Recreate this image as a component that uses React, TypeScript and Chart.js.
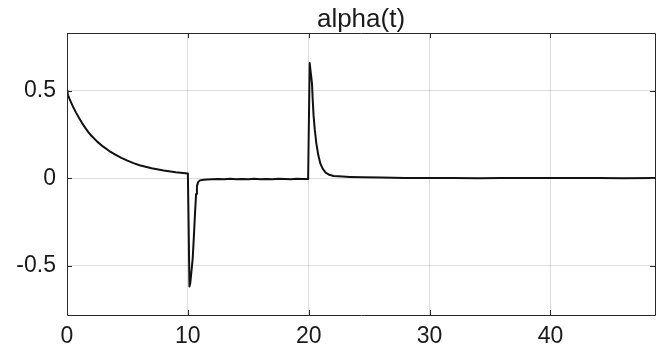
import React, { useEffect, useRef } from 'react';
import { Chart, registerables } from 'chart.js';

Chart.register(...registerables);

const TITLE = 'alpha(t)';

const X_MIN = 0;
const X_MAX = 48.65;
const Y_MIN = -0.783;
const Y_MAX = 0.832;

const X_TICKS = [0, 10, 20, 30, 40];
const X_TICK_LABELS = ['0', '10', '20', '30', '40'];
const Y_TICKS = [-0.5, 0, 0.5];
const Y_TICK_LABELS = ['-0.5', '0', '0.5'];

// time samples
const tValues = [
  0, 0.05, 0.1, 0.2, 0.3, 0.4, 0.5, 0.75, 1, 1.25, 1.5, 1.75, 2, 2.5, 3, 3.5, 4, 4.5, 5, 5.5, 6, 7, 8, 9, 10,
  10.05, 10.13, 10.2, 10.3, 10.4, 10.5, 10.6, 10.68, 10.75, 10.85, 11, 11.3, 11.6,
  12, 12.5, 13, 13.5, 14, 14.5, 15, 15.5, 16, 16.5, 17, 17.5, 18, 18.5, 19, 19.5, 19.95,
  20.08, 20.16, 20.27, 20.33, 20.4, 20.5, 20.63, 20.8, 20.96, 21.15, 21.4, 21.7, 22.06, 22.8, 23.4, 24.5, 26, 28, 30,
  32, 34, 36, 38, 40, 42, 44, 46, 48.65,
];

// alpha(t) values
const alphaValues = [
  0.5, 0.485, 0.474, 0.456, 0.44, 0.425, 0.41, 0.376, 0.345, 0.316, 0.29, 0.266, 0.245, 0.21, 0.181, 0.156, 0.135, 0.117, 0.101, 0.087, 0.075, 0.057, 0.045, 0.035, 0.028,
  -0.2, -0.62, -0.6, -0.53, -0.46, -0.33, -0.19, -0.09, -0.045, -0.022, -0.012, -0.008, -0.007,
  -0.006, -0.004, -0.006, -0.003, -0.005, -0.004, -0.006, -0.003, -0.005, -0.004, -0.005, -0.003, -0.004, -0.005, -0.003, -0.004, -0.004,
  0.66, 0.61, 0.544, 0.45, 0.36, 0.28, 0.2, 0.13, 0.085, 0.055, 0.032, 0.02, 0.013, 0.01, 0.008, 0.006, 0.004, 0.002, 0.001,
  0.001, 0.0, 0.001, 0.001, 0.002, 0.001, 0.001, 0.0, 0.001,
];

const FONT_FAMILY = '"Liberation Sans", Arial, Helvetica, sans-serif';
const TEXT_COLOR = '#1a1a1a';
const AXIS_COLOR = '#2a2a2a';
const GRID_COLOR = 'rgba(0,0,0,0.13)';

const framePlugin = {
  id: 'frame',
  afterDatasetsDraw(chart: any) {
    const { ctx, chartArea, scales } = chart;
    const { left, right, top, bottom } = chartArea;
    ctx.save();
    ctx.strokeStyle = AXIS_COLOR;
    ctx.lineWidth = 1;
    ctx.beginPath();
    ctx.rect(Math.round(left) + 0.5, Math.round(top) + 0.5, Math.round(right - left), Math.round(bottom - top));
    ctx.stroke();
    const tl = 5;
    ctx.beginPath();
    X_TICKS.forEach((v) => {
      const px = Math.round(scales.x.getPixelForValue(v)) + 0.5;
      ctx.moveTo(px, bottom);
      ctx.lineTo(px, bottom - tl);
      ctx.moveTo(px, top);
      ctx.lineTo(px, top + tl);
    });
    Y_TICKS.forEach((v) => {
      const py = Math.round(scales.y.getPixelForValue(v)) + 0.5;
      ctx.moveTo(left, py);
      ctx.lineTo(left + tl, py);
      ctx.moveTo(right, py);
      ctx.lineTo(right - tl, py);
    });
    ctx.stroke();
    ctx.restore();
  },
  afterDraw(chart: any) {
    const { ctx, chartArea } = chart;
    ctx.save();
    ctx.fillStyle = TEXT_COLOR;
    ctx.font = `26px ${FONT_FAMILY}`;
    ctx.textAlign = 'center';
    ctx.textBaseline = 'alphabetic';
    ctx.fillText(TITLE, (chartArea.left + chartArea.right) / 2, 27);
    ctx.restore();
  },
};

export default function App() {
  const canvasRef = useRef<HTMLCanvasElement | null>(null);

  useEffect(() => {
    if (!canvasRef.current) return;
    const points = tValues.map((t, i) => ({ x: t, y: alphaValues[i] }));
    const chart = new Chart(canvasRef.current, {
      type: 'line',
      data: {
        datasets: [
          {
            data: points,
            borderColor: '#111111',
            borderWidth: 2,
            borderJoinStyle: 'round',
            borderCapStyle: 'round',
            pointRadius: 0,
            tension: 0,
            fill: false,
          },
        ],
      },
      options: {
        responsive: false,
        animation: false,
        devicePixelRatio: 1,
        layout: { padding: { left: 0, right: 9, top: 33, bottom: 0 } },
        plugins: {
          legend: { display: false },
          tooltip: { enabled: false },
          title: { display: false },
        },
        scales: {
          x: {
            type: 'linear',
            min: X_MIN,
            max: X_MAX,
            afterBuildTicks: (s: any) => {
              s.ticks = X_TICKS.map((v) => ({ value: v }));
            },
            afterFit: (s: any) => {
              s.height = 39;
            },
            grid: { color: GRID_COLOR, drawTicks: false, lineWidth: 1 },
            border: { display: false },
            ticks: {
              padding: 8,
              maxRotation: 0,
              color: TEXT_COLOR,
              font: { family: FONT_FAMILY, size: 23 },
              callback: (v: any) => {
                const i = X_TICKS.indexOf(Number(v));
                return i >= 0 ? X_TICK_LABELS[i] : '';
              },
            },
          },
          y: {
            type: 'linear',
            min: Y_MIN,
            max: Y_MAX,
            afterBuildTicks: (s: any) => {
              s.ticks = Y_TICKS.map((v) => ({ value: v }));
            },
            afterFit: (s: any) => {
              s.width = 67;
            },
            grid: { color: GRID_COLOR, drawTicks: false, lineWidth: 1 },
            border: { display: false },
            ticks: {
              padding: 11,
              color: TEXT_COLOR,
              font: { family: FONT_FAMILY, size: 23 },
              callback: (v: any) => {
                const i = Y_TICKS.indexOf(Number(v));
                return i >= 0 ? Y_TICK_LABELS[i] : '';
              },
            },
          },
        },
      },
      plugins: [framePlugin],
    });
    return () => chart.destroy();
  }, []);

  return (
    <div style={{ position: 'fixed', left: 0, top: 0, width: 664, height: 354, background: '#fff' }}>
      <canvas ref={canvasRef} width={664} height={354} style={{ display: 'block' }} />
    </div>
  );
}
